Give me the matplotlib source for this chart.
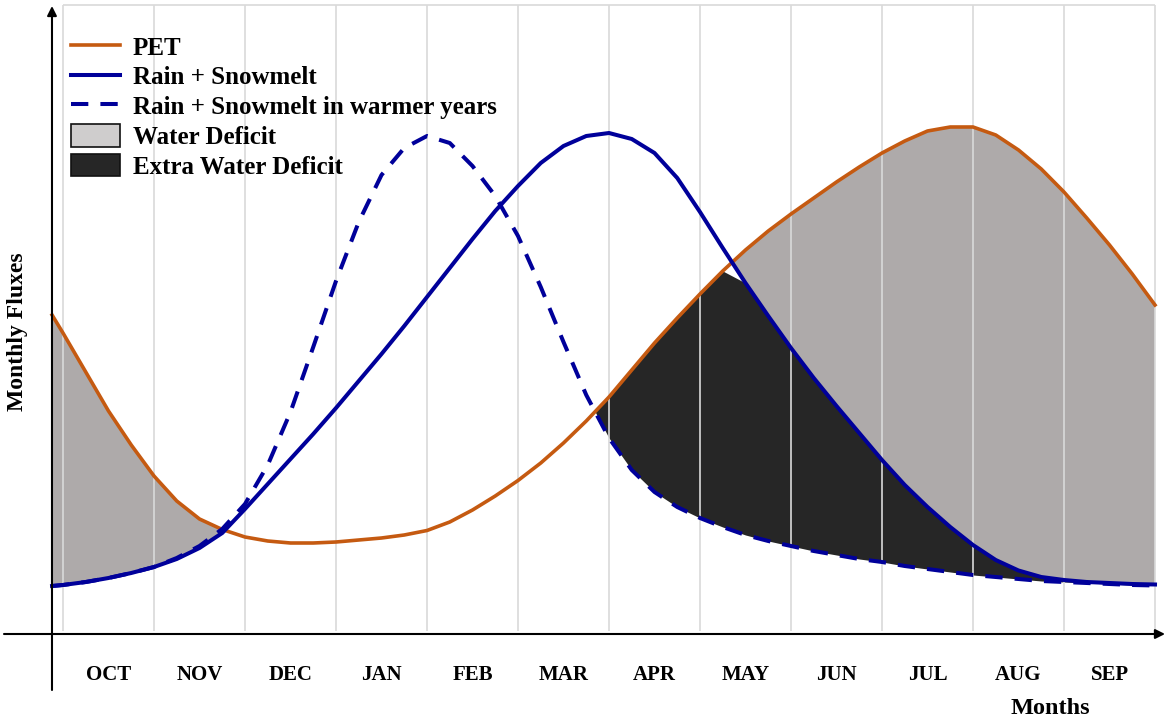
import numpy as np
import matplotlib
matplotlib.use("Agg")
import matplotlib.pyplot as plt
from matplotlib.lines import Line2D
from matplotlib.patches import Patch

# ---- data (months from start of October; flux in arbitrary units) ----
months = ["OCT", "NOV", "DEC", "JAN", "FEB", "MAR", "APR", "MAY", "JUN", "JUL", "AUG", "SEP"]
x = [-0.12] + [k * 0.25 for k in range(49)]

pet = [31.9, 30.1, 26.2, 22.3, 18.9, 15.8, 13.3, 11.5, 10.45, 9.7,
       9.3, 9.1, 9.1, 9.2, 9.4, 9.6, 9.9, 10.35, 11.2, 12.4,
       13.8, 15.35, 17.1, 19.1, 21.3, 23.7, 26.4, 29.1, 31.6, 34.0,
       36.3, 38.4, 40.3, 42.0, 43.6, 45.2, 46.7, 48.1, 49.3, 50.3,
       50.7, 50.7, 49.9, 48.4, 46.5, 44.2, 41.6, 38.9, 36.0, 32.9]

rain_snow = [4.8, 4.9, 5.2, 5.6, 6.1, 6.7, 7.5, 8.6, 10.1, 12.5,
             15.0, 17.5, 20.0, 22.6, 25.3, 28.0, 30.8, 33.7, 36.6, 39.5,
             42.3, 44.8, 47.1, 48.8, 49.8, 50.1, 49.5, 48.1, 45.6, 42.2,
             38.6, 35.1, 31.8, 28.6, 25.6, 22.8, 20.1, 17.4, 14.9, 12.7,
             10.7, 8.9, 7.4, 6.35, 5.7, 5.4, 5.2, 5.1, 5.0, 4.95]

rain_snow_warm = [4.8, 4.9, 5.2, 5.6, 6.1, 6.7, 7.6, 8.8, 10.5, 13.0,
                  16.9, 22.2, 28.7, 35.3, 41.2, 45.9, 48.6, 49.8, 49.1, 46.8,
                  43.8, 39.8, 34.7, 29.2, 23.9, 19.6, 16.4, 14.2, 12.7, 11.6,
                  10.7, 9.9, 9.3, 8.8, 8.3, 7.9, 7.5, 7.2, 6.8, 6.5,
                  6.2, 5.9, 5.7, 5.5, 5.3, 5.2, 5.1, 5.0, 4.9, 4.85]

# ---- styling ----
ORANGE = "#c55a11"
BLUE = "#00009a"
LIGHT = "#aeaaaa"
DARK = "#262626"
GRID = "#d9d9d9"
SERIF = ["Liberation Serif", "DejaVu Serif"]

W, H = 1170, 721
fig = plt.figure(figsize=(W / 100, H / 100), dpi=100)
ax = fig.add_axes([0, 0, 1, 1])
ax.set_axis_off()
# pixel-aligned data frame: 1 month = 91 px, 1 flux unit = 10 px
ax.set_xlim(-63 / 91, (W - 63) / 91)
ax.set_ylim(-(H - 634) / 10, 634 / 10)

xa = np.array(x)
p = np.array(pet)
r = np.array(rain_snow)
rw = np.array(rain_snow_warm)

# fills
ax.fill_between(xa, r, p, where=p > r, interpolate=True, color=LIGHT, lw=0, zorder=1)
upper = np.minimum(p, r)
ax.fill_between(xa, rw, upper, where=upper > rw, interpolate=True, color=DARK, lw=0, zorder=1)

# grid box
top = (634 - 5) / 10
bot = (634 - 631) / 10
ax.vlines(range(13), bot, top, colors=GRID, lw=1.2, zorder=2)
ax.hlines(top, 0, 12, colors=GRID, lw=1.2, zorder=2)

# lines
ax.plot(xa, p, color=ORANGE, lw=2.6, zorder=4, solid_joinstyle="round")
ax.plot(xa, r, color=BLUE, lw=2.9, zorder=5, solid_joinstyle="round")
ax.plot(xa, rw, color=BLUE, lw=2.9, zorder=5, dashes=(4.3, 3.0), dash_joinstyle="round")

# axes arrows
ax.annotate("", xy=(-0.121, (634 - 6) / 10), xytext=(-0.121, (634 - 690) / 10),
            arrowprops=dict(arrowstyle="-|>", lw=1.5, color="black", mutation_scale=14,
                            shrinkA=0, shrinkB=0), zorder=6)
ax.annotate("", xy=((1165 - 63) / 91, 0), xytext=((4 - 63) / 91, 0),
            arrowprops=dict(arrowstyle="-|>", lw=1.5, color="black", mutation_scale=14,
                            shrinkA=0, shrinkB=0), zorder=6)

# month labels
for i, m in enumerate(months):
    ax.text(i + 0.5, (634 - 675) / 10, m, ha="center", va="center",
            family=SERIF, weight="bold", fontsize=15)

ax.text((1050 - 63) / 91, (634 - 708) / 10, "Months", ha="center", va="center",
        family=SERIF, weight="bold", fontsize=17.5)
ax.text((18 - 63) / 91, (634 - 332) / 10, "Monthly Fluxes", ha="center", va="center",
        rotation=90, family=SERIF, weight="bold", fontsize=17)

# legend
handles = [
    Line2D([], [], color=ORANGE, lw=2.6),
    Line2D([], [], color=BLUE, lw=2.9),
    Line2D([], [], color=BLUE, lw=2.9, dashes=(4.3, 3.0)),
    Patch(facecolor="#cfcdcd", edgecolor="#111111", lw=1.2),
    Patch(facecolor=DARK, edgecolor="#111111", lw=1.2),
]
labels = ["PET", "Rain + Snowmelt", "Rain + Snowmelt in warmer years",
          "Water Deficit", "Extra Water Deficit"]
ax.legend(handles, labels, loc="upper left", bbox_to_anchor=(71 / W, 1 - 35 / H),
          bbox_transform=fig.transFigure, frameon=False, borderpad=0, borderaxespad=0,
          handlelength=1.95, handleheight=1.0, handletextpad=0.52, labelspacing=0.2,
          prop={"family": SERIF, "weight": "bold", "size": 18})

fig.savefig("out.png", dpi=100)
